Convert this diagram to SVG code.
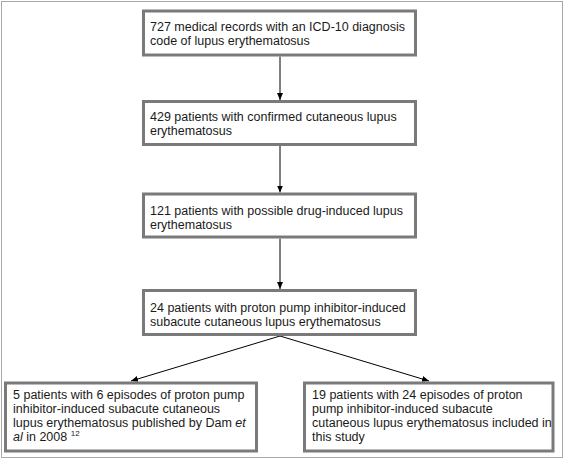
<svg xmlns="http://www.w3.org/2000/svg" width="564" height="461" viewBox="0 0 564 461">
  <style>
    .box { fill: #ffffff; stroke: #7a7a7a; stroke-width: 3; }
    .t { font-family: "Liberation Sans", Arial, Helvetica, sans-serif; font-size: 12.5px; fill: #1a1a1a; }
    .sup { font-size: 8px; }
    .conn { stroke: #000000; stroke-width: 1; fill: none; marker-end: url(#arr); }
  </style>
  <defs>
    <marker id="arr" markerUnits="userSpaceOnUse" markerWidth="7" markerHeight="6" refX="7" refY="3" orient="auto">
      <path d="M0,0 L7,3 L0,6 z" fill="#000000"/>
    </marker>
  </defs>
  <rect x="0" y="0" width="564" height="461" fill="#ffffff"/>
  <rect x="1.5" y="1.5" width="561" height="456" fill="none" stroke="#a8a8a8" stroke-width="1"/>

  <g id="connectors">
    <line class="conn" x1="280" y1="56.5" x2="280" y2="100"/>
    <line class="conn" x1="280" y1="146" x2="280" y2="192.5"/>
    <line class="conn" x1="280" y1="238.5" x2="280" y2="289"/>
    <line class="conn" x1="280" y1="336" x2="131" y2="381"/>
    <line class="conn" x1="280" y1="336" x2="429" y2="381"/>
  </g>

  <g id="n1">
    <rect class="box" x="143.5" y="11" width="272" height="44"/>
    <text class="t" x="150" y="31">727 medical records with an ICD-10 diagnosis</text>
    <text class="t" x="150" y="45">code of lupus erythematosus</text>
  </g>

  <g id="n2">
    <rect class="box" x="143.5" y="101.5" width="272" height="43"/>
    <text class="t" x="150" y="121">429 patients with confirmed cutaneous lupus</text>
    <text class="t" x="150" y="135">erythematosus</text>
  </g>

  <g id="n3">
    <rect class="box" x="143.5" y="194" width="272" height="43"/>
    <text class="t" x="150" y="214.5">121 patients with possible drug-induced lupus</text>
    <text class="t" x="150" y="228.5">erythematosus</text>
  </g>

  <g id="n4">
    <rect class="box" x="143.5" y="290.5" width="272" height="44"/>
    <text class="t" x="150" y="312">24 patients with proton pump inhibitor-induced</text>
    <text class="t" x="150" y="326">subacute cutaneous lupus erythematosus</text>
  </g>

  <g id="n5">
    <rect class="box" x="5.5" y="383" width="251" height="68"/>
    <text class="t" x="13" y="399">5 patients with 6 episodes of proton pump</text>
    <text class="t" x="13" y="413">inhibitor-induced subacute cutaneous</text>
    <text class="t" x="13" y="427">lupus erythematosus published by Dam <tspan font-style="italic">et</tspan></text>
    <text class="t" x="13" y="440.5"><tspan font-style="italic">al</tspan> in 2008 <tspan class="sup" dy="-5">12</tspan></text>
  </g>

  <g id="n6">
    <rect class="box" x="304.5" y="383" width="248.5" height="68"/>
    <text class="t" x="312" y="399">19 patients with 24 episodes of proton</text>
    <text class="t" x="312" y="413">pump inhibitor-induced subacute</text>
    <text class="t" x="312" y="427">cutaneous lupus erythematosus included in</text>
    <text class="t" x="312" y="440.5">this study</text>
  </g>
</svg>
